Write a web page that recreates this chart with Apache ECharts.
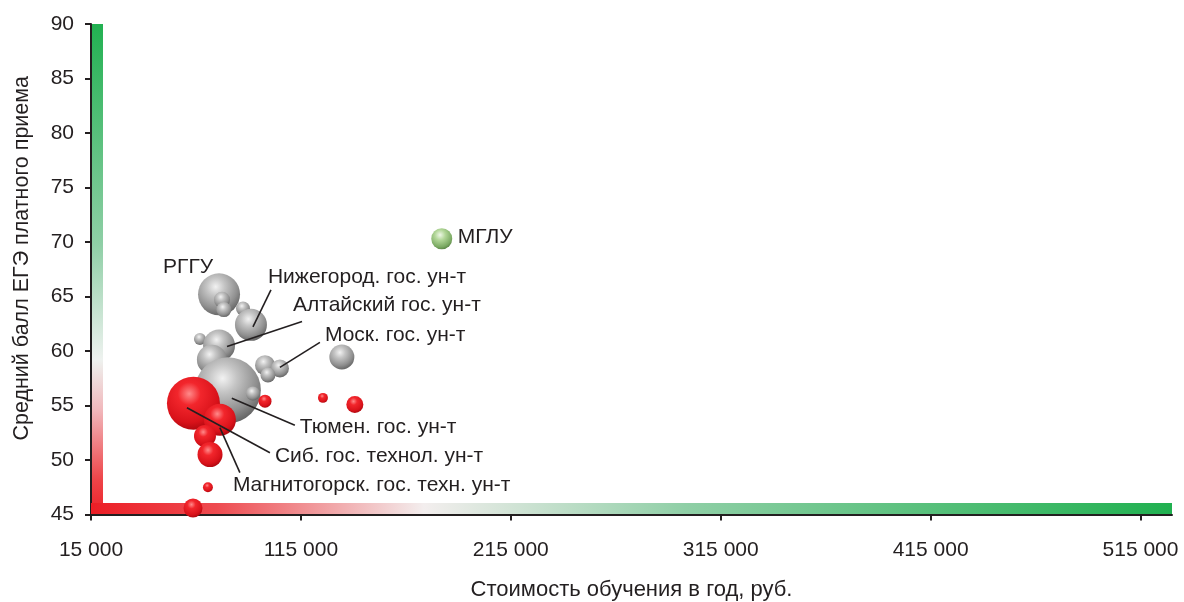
<!DOCTYPE html>
<html>
<head>
<meta charset="utf-8">
<script src="https://cdn.jsdelivr.net/npm/echarts@6/dist/echarts.min.js"></script>
<style>
html,body{margin:0;padding:0;background:#fff;}
#chart{width:1184px;height:602px;}
</style>
</head>
<body>
<div id="chart"></div>
<script>
// ---- data ----
const universities = ['u1','u2','u3','u4','Нижегород. гос. ун-т','u6','Алтайский гос. ун-т','u8','Тюмен. гос. ун-т','u10','Моск. гос. ун-т','u12','u13','u14',
  'Сиб. гос. технол. ун-т','Магнитогорск. гос. техн. ун-т','u17','u18','u19','u20','u21','u22','u23','МГЛУ'];
const costX    = [76000, 77400, 78300, 87400, 91200, 66900, 76000, 72600, 80200, 97900, 105000, 99300, 134500, 92100,
                  63800, 76400, 69300, 71700, 70700, 63600, 97900, 125500, 140700, 182100];
const scoreY   = [65.2, 64.7, 63.8, 63.9, 62.4, 61.1, 60.5, 59.2, 56.4, 58.7, 58.4, 57.8, 59.45, 56.1,
                  55.2, 53.7, 52.2, 50.5, 47.5, 45.6, 55.4, 55.7, 55.1, 70.3];
const students = [784, 114, 100, 87, 455, 64, 455, 400, 1936, 178, 144, 100, 278, 87,
                  1248, 455, 215, 278, 44, 160, 75, 44, 128, 196];
const group    = ['gray','gray','gray','gray','gray','gray','gray','gray','gray','gray','gray','gray','gray','gray',
                  'red','red','red','red','red','red','red','red','red','green'];
const xTicks = [15000, 115000, 215000, 315000, 415000, 515000];
const annLabels = ['РГГУ','Нижегород. гос. ун-т','Алтайский гос. ун-т','Моск. гос. ун-т','Тюмен. гос. ун-т','Сиб. гос. технол. ун-т','Магнитогорск. гос. техн. ун-т','МГЛУ'];
const annTarget = [0, 4, 6, 10, 8, 14, 15, 23];
const xName = 'Стоимость обучения в год, руб.';
const yName = 'Средний балл ЕГЭ платного приема';

// ---- styles ----
// pixel offsets relative to the target bubble: [lineStart, lineEnd] or null, text anchor (left, middle)
const annStyle = [
  {line: null, text: [-56, -27]},
  {line: [[2, 2], [20, -35]], text: [17, -48]},
  {line: [[8, 1], [83, -24]], text: [74, -40]},
  {line: [[0, -1], [40, -26]], text: [45, -33]},
  {line: [[4, 8], [67, 35]], text: [72, 36.5]},
  {line: [[-6.5, 4.5], [76.5, 49.5]], text: [81.5, 52.5]},
  {line: [[0, 8], [20, 53]], text: [13, 66]},
  {line: null, text: [16, -2]}
];
const FONT = '"Liberation Sans", Arial, Helvetica, sans-serif';
const TXT = '#231f20';
const sphere = {
  gray:  [[0,'#f2f2f2'],[0.3,'#c4c4c4'],[0.72,'#8f8f8f'],[1,'#5e5e5e']],
  red:   [[0,'#ff8a8a'],[0.3,'#f2262c'],[0.75,'#d9121a'],[1,'#a8060d']],
  green: [[0,'#eef7e6'],[0.35,'#b1d697'],[0.8,'#7aa962'],[1,'#557f40']]
};
function radial(stops){
  return {type:'radial', x:0.42, y:0.32, r:0.72, colorStops: stops.map(s=>({offset:s[0], color:s[1]}))};
}
function fmt(v){ return String(v).replace(/\B(?=(\d{3})+(?!\d))/g, ' '); }

function bubbleSeries(g){
  const data = [];
  for (let i = 0; i < costX.length; i++) {
    if (group[i] === g) data.push({name: universities[i], value: [costX[i], scoreY[i], students[i]]});
  }
  return {
    type: 'scatter', xAxisIndex: 0, yAxisIndex: 0, z: 3,
    data: data,
    symbolSize: v => Math.sqrt(v[2]) * 1.5,
    itemStyle: {color: radial(sphere[g]), opacity: 1},
    emphasis: {disabled: true},
    silent: true
  };
}

const annData = annTarget.map(i => [costX[i], scoreY[i]]);

const chart = echarts.init(document.getElementById('chart'), null, {renderer: 'canvas'});
chart.setOption({
  animation: false,
  backgroundColor: '#ffffff',
  grid: {left: 91, right: 12, top: 24, bottom: 87.5, outerBoundsMode: 'none'},
  xAxis: [{
    type: 'value', min: 15000, max: 530000, position: 'bottom',
    axisLine: {show: true, onZero: false, lineStyle: {color: TXT, width: 2}},
    axisTick: {show: true, length: 6, customValues: xTicks, lineStyle: {color: TXT, width: 2}},
    axisLabel: {customValues: xTicks, formatter: fmt, fontSize: 21, fontFamily: FONT, color: TXT, margin: 25},
    splitLine: {show: false},
    name: xName, nameLocation: 'middle', nameGap: 64, nameMoveOverlap: false,
    nameTextStyle: {fontSize: 22, fontFamily: FONT, color: TXT}
  }, {
    type: 'value', min: 15000, max: 530000, position: 'bottom', offset: -6,
    axisLine: {show: true, onZero: false, lineStyle: {width: 11, cap: 'butt', color: {
      type: 'linear', x: 0, y: 0, x2: 1, y2: 0,
      colorStops: [{offset: 0, color: '#ec1c24'}, {offset: 0.12, color: '#ee4b50'}, {offset: 0.31, color: '#f3eeee'},
                   {offset: 0.55, color: '#8fcfa6'}, {offset: 1, color: '#1fb04f'}]}}},
    axisTick: {show: false}, axisLabel: {show: false}, splitLine: {show: false}
  }],
  yAxis: [{
    type: 'value', min: 45, max: 90, interval: 5, position: 'left',
    axisLine: {show: true, onZero: false, lineStyle: {color: TXT, width: 2}},
    axisTick: {show: true, length: 6, lineStyle: {color: TXT, width: 2}},
    axisLabel: {fontSize: 21, fontFamily: FONT, color: TXT, margin: 17},
    splitLine: {show: false},
    name: yName, nameLocation: 'middle', nameGap: 58, nameRotate: 90, nameMoveOverlap: false,
    nameTextStyle: {fontSize: 21.5, fontFamily: FONT, color: TXT, padding: [0, 0, 0, 22]}
  }, {
    type: 'value', min: 45, max: 90, interval: 5, position: 'left', offset: -6.5,
    axisLine: {show: true, onZero: false, lineStyle: {width: 11, cap: 'butt', color: {
      type: 'linear', x: 0, y: 0, x2: 0, y2: 1,
      colorStops: [{offset: 0, color: '#1fb04f'}, {offset: 0.45, color: '#8fcfa6'}, {offset: 0.68, color: '#eef2ef'},
                   {offset: 0.78, color: '#f1b8bc'}, {offset: 0.92, color: '#ee4448'}, {offset: 1, color: '#ec1c24'}]}}},
    axisTick: {show: false}, axisLabel: {show: false}, splitLine: {show: false}
  }],
  series: [
    bubbleSeries('gray'),
    bubbleSeries('red'),
    bubbleSeries('green'),
    {
      type: 'custom', xAxisIndex: 0, yAxisIndex: 0, z: 10, silent: true,
      data: annData,
      renderItem: function(params, api){
        const p = api.coord([api.value(0), api.value(1)]);
        const k = params.dataIndex;
        const st = annStyle[k];
        const children = [];
        if (st.line) {
          children.push({type: 'line', shape: {
            x1: p[0] + st.line[0][0], y1: p[1] + st.line[0][1],
            x2: p[0] + st.line[1][0], y2: p[1] + st.line[1][1]},
            style: {stroke: TXT, lineWidth: 1.6}});
        }
        children.push({type: 'text', style: {
          text: annLabels[k], x: p[0] + st.text[0], y: p[1] + st.text[1],
          align: 'left', verticalAlign: 'middle', fill: TXT,
          font: '21px ' + FONT}});
        return {type: 'group', children: children};
      }
    }
  ]
});
</script>
</body>
</html>
